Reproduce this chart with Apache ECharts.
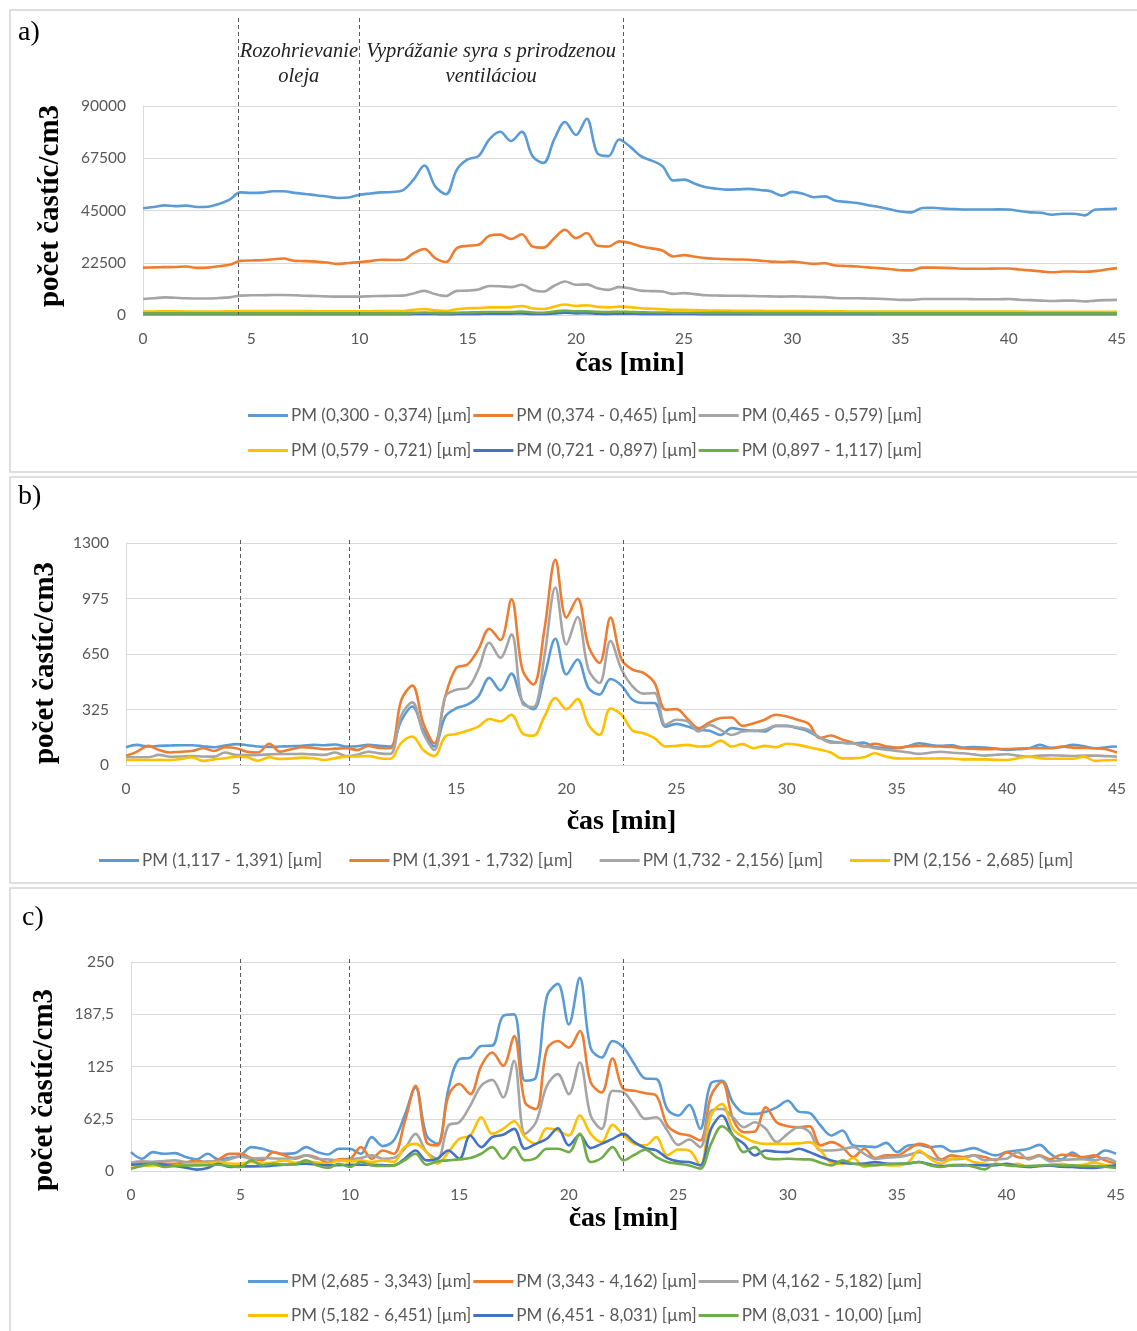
<!DOCTYPE html>
<html><head><meta charset="utf-8">
<script src="https://cdn.jsdelivr.net/npm/echarts@6/dist/echarts.min.js"></script>
<style>html,body{margin:0;padding:0;background:#fff}#c{width:1137px;height:1331px}</style>
</head><body><div id="c"></div>
<script>
// time axis (minutes), shared by all panels
const minutes = [0,0.5,1,1.5,2,2.5,3,3.5,4,4.5,5,5.5,6,6.5,7,7.5,8,8.5,9,9.5,10,10.5,11,11.5,12,12.5,13,13.5,14,14.5,15,15.5,16,16.5,17,17.5,18,18.5,19,19.5,20,20.5,21,21.5,22,22.5,23,23.5,24,24.5,25,25.5,26,26.5,27,27.5,28,28.5,29,29.5,30,30.5,31,31.5,32,32.5,33,33.5,34,34.5,35,35.5,36,36.5,37,37.5,38,38.5,39,39.5,40,40.5,41,41.5,42,42.5,43,43.5,44,44.5,45];

// ---- panel a) ----
const namesA = ['PM (0,300 - 0,374) [µm]','PM (0,374 - 0,465) [µm]','PM (0,465 - 0,579) [µm]','PM (0,579 - 0,721) [µm]','PM (0,721 - 0,897) [µm]','PM (0,897 - 1,117) [µm]'];
const a1 = [46000,46500,47200,46900,47100,46500,46600,47800,49700,52800,52600,52700,53300,53300,52600,52100,51600,51000,50400,50600,51800,52300,52800,53000,53700,58300,64400,55400,52000,62600,67000,68400,75600,78900,74900,78900,68400,65500,75600,83100,77500,84500,69500,68400,75600,72500,68400,66500,64100,57900,58300,56500,55000,54400,54000,54100,54300,53800,53300,51400,53000,52200,50700,51100,49200,48700,48200,47300,46500,45500,44600,44200,46100,46200,45800,45600,45400,45400,45400,45500,45400,44800,44200,44000,43200,43600,43600,42900,45400,45600,45800];
const a2 = [20400,20500,20600,20700,20900,20300,20400,21000,21600,23300,23500,23600,24000,24300,23300,23200,23000,22600,22000,22400,22750,23200,23760,23700,23760,26600,28400,24500,22800,28800,29800,30200,34100,34600,32700,34800,29500,29000,33100,36700,33100,35300,29800,29500,31700,31000,29500,28700,27800,25200,25800,25100,24500,24200,24000,23900,23800,23400,23000,22800,23000,22500,22000,22300,21300,21100,20900,20500,20200,19800,19300,19200,20400,20400,20300,20100,19900,19900,19900,20000,20000,19600,19200,18800,18400,18700,18700,18600,18900,19600,20200];
const a3 = [6900,7200,7600,7400,7200,7100,7100,7300,7600,8350,8500,8500,8600,8600,8500,8300,8200,8000,7900,7900,7900,8100,8200,8300,8350,9300,10400,9000,8200,10400,10500,11000,12500,12400,12000,13000,10800,10100,12600,14400,13000,13200,11500,10800,12000,11500,10500,10300,10100,9100,9400,9000,8500,8400,8300,8300,8200,8100,8000,7900,8000,7900,7800,7700,7300,7200,7200,7100,7000,6800,6500,6500,6900,6900,6900,6900,6900,6800,6800,6800,6900,6600,6400,6200,6000,6200,6200,5800,6200,6400,6500];
const a4 = [1500,1500,1600,1600,1500,1500,1500,1500,1600,1700,1700,1700,1700,1700,1700,1700,1600,1600,1600,1600,1600,1600,1700,1700,1700,2200,2600,2000,1700,2500,2900,3000,3300,3300,3400,3900,2800,2600,3600,4500,3900,4200,3500,3300,3600,3400,2900,2700,2500,2200,2200,2100,2000,1900,1900,1800,1800,1800,1700,1700,1700,1700,1600,1600,1600,1500,1500,1500,1500,1500,1500,1500,1500,1500,1500,1500,1500,1500,1500,1500,1500,1500,1400,1400,1400,1400,1400,1400,1400,1400,1400];
const a5 = [300,300,300,300,300,300,300,300,300,300,300,300,300,300,300,300,300,300,300,300,300,300,300,300,300,400,500,400,300,400,500,500,600,600,600,700,400,400,700,1000,700,800,600,500,600,550,500,450,450,400,400,400,350,350,350,350,300,300,300,300,300,300,300,300,300,300,300,300,300,300,300,300,300,300,300,300,300,300,300,300,300,300,300,300,300,300,300,300,300,300,300];
const a6 = [700,700,700,700,700,700,700,700,700,700,700,700,700,700,700,700,700,700,700,700,700,700,700,700,700,900,1100,900,800,1000,1100,1200,1300,1300,1300,1500,1100,1000,1500,1900,1600,1600,1400,1300,1400,1300,1200,1100,1100,1000,1000,950,900,900,900,850,850,800,800,800,800,800,800,800,750,750,750,750,700,700,700,700,700,700,700,700,700,700,700,700,700,700,700,700,700,700,700,700,700,700,700];

// ---- panel b) ----
const namesB = ['PM (1,117 - 1,391) [µm]','PM (1,391 - 1,732) [µm]','PM (1,732 - 2,156) [µm]','PM (2,156 - 2,685) [µm]'];
const b1 = [104,118,108,112,114,116,116,110,104,114,122,116,108,106,108,110,112,118,116,120,108,110,118,112,108,260,343,206,108,284,333,353,402,510,437,535,373,327,520,739,530,618,451,412,504,465,382,363,363,225,241,225,206,200,176,216,206,200,196,229,229,215,196,160,137,130,127,131,104,100,98,110,127,118,112,115,102,105,102,96,88,92,98,118,100,105,118,110,98,104,108];
const b2 = [53,78,112,88,73,78,82,98,82,104,98,78,73,124,78,92,104,100,92,96,98,88,112,100,98,380,465,245,127,402,569,588,677,798,731,971,559,471,794,1202,863,975,696,598,863,618,559,539,480,324,327,270,216,250,275,278,229,245,265,294,284,265,241,157,173,150,131,108,124,110,102,108,112,110,108,105,98,95,92,94,94,96,98,98,98,108,102,100,98,92,73];
const b3 = [45,45,45,59,48,50,53,50,49,73,59,58,59,62,65,64,65,62,59,73,53,60,78,68,65,290,367,186,88,402,441,451,559,716,628,765,363,339,637,1039,706,867,559,480,726,559,461,418,422,235,265,255,196,235,206,176,196,200,206,229,229,220,206,160,131,130,127,112,98,90,82,75,65,72,78,72,69,62,55,60,63,55,49,55,57,55,53,55,55,52,49];
const b4 = [29,29,29,30,29,35,45,24,33,40,49,45,25,45,35,38,43,40,29,40,49,50,53,40,37,130,167,88,53,167,182,200,225,269,255,294,186,171,284,392,327,386,235,176,331,294,202,186,157,108,112,118,108,112,143,108,122,98,112,104,124,118,104,90,73,39,39,45,69,50,39,38,39,38,39,38,33,33,33,30,29,40,49,40,37,37,37,49,24,28,29];

// ---- panel c) ----
const namesC = ['PM (2,685 - 3,343) [µm]','PM (3,343 - 4,162) [µm]','PM (4,162 - 5,182) [µm]','PM (5,182 - 6,451) [µm]','PM (6,451 - 8,031) [µm]','PM (8,031 - 10,00) [µm]'];
const c1 = [22.6,14.7,22.6,20.6,21.4,16.7,13.9,20.6,13.9,15.5,18.7,28.6,26.6,22.6,20.6,21.4,28.6,22.6,19.8,26.6,26.6,20.6,40.5,29.8,36.5,66.3,100,42.5,32.5,98,133.7,135.7,149.6,150,185.3,187.3,108,112,209,223.8,175.4,231,147,135.7,155.5,147.6,127.8,110.7,110,74.2,66.3,79,50.4,105,108,82,69.4,68.3,71,76.2,84,71,69.4,54.4,42.5,48.4,30.6,29.5,28.6,33.7,22.6,30.6,31.3,28.6,29.8,23.4,24.6,27.4,22.6,18.7,22.6,24.5,26.6,31.3,20.6,13.9,22.2,15.5,16.7,24.6,20.6];
const c2 = [7.9,9.5,9.9,9,8.7,10.5,12.7,9.9,13.9,20.6,20.6,15.5,12.7,22.6,18.7,14.7,18.7,16,9.9,13.9,14.7,28.6,14.7,24.6,20.6,58.3,102,34.5,30.6,90,104,92,125.8,141.7,125.8,161.5,82,74.2,145.6,155.5,147.6,167.5,106,94,134.5,98,96,92.9,90,54.4,45.2,42.5,36.5,90,106.7,62.3,46.4,47.2,76.2,58.3,53.6,52.4,53.6,30.6,34.5,28.6,16.7,26.6,15.5,18.7,18.7,25.8,32.5,28.6,13.9,18.7,16.7,18.7,16.7,12.7,22.6,16.7,15.5,18.7,13.9,19.4,18.7,16.7,18.7,12.7,8.7];
const c3 = [9.9,11.5,11,12,12.7,10.7,9.5,11.5,11,13.9,17.5,14.7,15.5,15,14.7,16,18.7,14.7,13.9,12.7,13.9,15.5,18.7,14.7,15.5,26.6,44.4,22.6,14.7,54.4,58.3,78.2,102,109,88,131.7,44.4,58.3,102,115.9,92,129.8,66.3,50.4,96,94,78.2,62.3,64.3,48.4,31.3,37.7,28.6,72.2,74.2,64.3,52.4,58.3,50.4,34.5,44.4,52.4,46.4,24.6,24.6,26,28.6,20.6,14.7,16,16.7,19,22.6,16.7,12.7,14,14.7,18.7,12.7,14,14.7,22.6,13.9,17.9,11.5,13,13.9,14,12.7,15.5,10.7];
const c4 = [3.6,6,6.7,6.5,6.7,7.5,8.7,8.7,10.7,9,8.7,10.7,8.7,10,12.7,9.9,11.5,10,8.7,12.7,11.5,12.7,10.7,12.7,10.7,28.6,32.5,22.6,8.7,22.6,38.5,42.5,64.3,44.4,50.4,59.5,40.5,32.5,51.2,48.4,42.5,66.3,44.4,34.5,55.2,42.5,32.5,30.6,40.5,18.7,25.8,24.6,6.7,66.3,80.2,50.4,40.5,34.5,32.5,32.5,32.5,33,34.5,24.6,9.9,8.7,15.5,4.8,8.7,7,6.7,10,24.6,14.7,8.7,14.7,15.5,10.7,8.7,8,7.5,8.7,4.8,6,6.7,8.7,6,7.5,9.9,7,4.8];
const c5 = [7.5,8,8.7,7.5,6,4,1.6,3.6,8.7,4.8,5.6,5.5,5.6,6.5,7.5,8,8.7,7.5,6.7,7,7.5,7.5,7.5,7,6.7,14.7,24.6,12.7,14.7,24.6,14.7,42.5,28.6,40.5,43.3,50.4,26.6,32.5,38.5,51.2,30.6,43.3,27.4,32.5,38.5,44.4,34.5,27.4,24.6,15.5,11.5,10.7,6.7,50.4,66.3,42.5,32.5,18.7,24.6,23,22.6,26.6,22.6,17,12.7,10,8.7,9,10.7,9,8.7,9,10.7,8,6,6.5,6.7,7,6.7,7,8.7,6,4.8,6,6.7,5,4.8,4,3.6,5,6.7];
const c6 = [2.8,6,8.7,4.8,6,6.5,6.7,7,7.5,6,4.8,12.7,6.7,8.7,7.5,8,12.7,6.7,3.6,8.7,4.8,10.7,6.7,6,6.7,12.7,20.6,7.5,11.5,12.7,13.9,15.5,20.6,28.6,14.7,28.6,12.7,15.5,26.6,26.6,22.6,44.4,10.7,15.5,28.6,12.7,19.4,25.4,16.7,10.7,8.7,6.7,2.8,32.5,53.6,42.5,22.6,28.6,15.5,14,14.7,14,13.9,10,6.7,12.7,8.7,7,6.7,8,8.7,9,10.7,7,4.8,7,7.5,5,2,8.7,6.7,6,6,6.5,7.5,6.5,6.7,6,6,5,3.6];

// phase boundaries (minutes) for each panel
const phasesA = [4.4, 10.0, 22.17];
const phasesB = [5.19, 10.12, 22.57];
const phasesC = [4.96, 9.98, 22.49];
const yTicksA = {max: 90000, step: 22500};
const yTicksB = {max: 1300, step: 325};
const yTicksC = {max: 250, step: 62.5};
const phaseLabels = [['Rozohrievanie','oleja'],['Vyprážanie syra s prirodzenou','ventiláciou']];
const yTitle = 'počet častíc/cm3';
const xTitle = 'čas [min]';

const colors = ['#5B9BD5','#ED7D31','#A5A5A5','#FFC000','#4472C4','#70AD47'];
const tickFont = 'Lato, "Liberation Sans", sans-serif';
const serif = '"Liberation Serif", "DejaVu Serif", serif';

const chart = echarts.init(document.getElementById('c'), null, {renderer: 'canvas'});

const grids = [
  {left: 143, top: 106, width: 974, height: 209},
  {left: 126, top: 543, width: 991, height: 222},
  {left: 131, top: 962, width: 985, height: 209}
];
const yCfg = [yTicksA, yTicksB, yTicksC];
const xNameGap = [35, 43, 34];

function pairs(v){ return minutes.map((t,i)=>[t, v[i]]); }

const xAxes = grids.map((g,i)=>({
  type: 'value', gridIndex: i, min: 0, max: 45, interval: 5,
  name: xTitle, nameLocation: 'middle', nameGap: xNameGap[i],
  nameTextStyle: {fontFamily: serif, fontWeight: 'bold', fontSize: 28, color: '#000'},
  axisLine: {show: false}, axisTick: {show: false}, splitLine: {show: false},
  axisLabel: {color: '#595959', fontSize: 15.5, fontFamily: tickFont, margin: 16}
}));
const yAxes = grids.map((g,i)=>({
  type: 'value', gridIndex: i, min: 0, max: yCfg[i].max, interval: yCfg[i].step,
  axisLine: {show: true, lineStyle: {color: '#d9d9d9', width: 1}}, axisTick: {show: false},
  splitLine: {show: true, lineStyle: {color: '#d9d9d9', width: 1}},
  axisLabel: {color: '#595959', fontSize: 15.5, fontFamily: tickFont, margin: 17,
    formatter: v => String(v).replace('.', ',')}
}));

const seriesDefs = [
  [namesA, [a1,a2,a3,a4,a5,a6]],
  [namesB, [b1,b2,b3,b4]],
  [namesC, [c1,c2,c3,c4,c5,c6]]
];
const series = [];
seriesDefs.forEach(([names, vals], gi)=>{
  vals.forEach((v,k)=>{
    series.push({
      type: 'line', name: names[k], xAxisIndex: gi, yAxisIndex: gi,
      data: pairs(v), smooth: 0.35, showSymbol: false, symbol: 'none',
      lineStyle: {width: 2.6, color: colors[k]}, itemStyle: {color: colors[k]},
      emphasis: {disabled: true}, animation: false
    });
  });
});

const legendBase = {
  icon: 'rect', itemWidth: 40, itemHeight: 3, itemGap: 2,
  textStyle: {color: '#595959', fontSize: 17, fontFamily: tickFont, padding: [0,0,0,-2]},
  selectedMode: false
};
const legends = [
  Object.assign({}, legendBase, {data: namesA.slice(0,3), left: 243, top: 402}),
  Object.assign({}, legendBase, {data: namesA.slice(3), left: 243, top: 437}),
  Object.assign({}, legendBase, {data: namesB, left: 94, top: 847, itemGap: 27}),
  Object.assign({}, legendBase, {data: namesC.slice(0,3), left: 243, top: 1268}),
  Object.assign({}, legendBase, {data: namesC.slice(3), left: 243, top: 1302})
];

chart.setOption({
  backgroundColor: '#fff',
  animation: false,
  grid: grids,
  xAxis: xAxes,
  yAxis: yAxes,
  legend: legends,
  series: series
});

// annotations (frames, panel letters, y titles, phase dividers)
const gfx = [];
const frames = [[10,10,1140,462],[10,477,1140,406],[10,888,1140,450]];
frames.forEach(f=>gfx.push({type:'rect', shape:{x:f[0], y:f[1], width:f[2], height:f[3]},
  style:{fill:'none', stroke:'#d4d4d4', lineWidth:1.5}, silent:true}));
[['a)',18,33],['b)',18,497],['c)',22,918]].forEach(p=>gfx.push({type:'text', x:p[1], y:p[2],
  style:{text:p[0], font:'28px ' + serif, fill:'#000', textVerticalAlign:'middle'}, silent:true}));
[[51,206],[46,663],[45,1090]].forEach(p=>gfx.push({type:'text', x:p[0], y:p[1], rotation: Math.PI/2,
  style:{text:yTitle, font:'bold 29px ' + serif, fill:'#000', textAlign:'center', textVerticalAlign:'middle'}, silent:true}));

const phaseSets = [phasesA, phasesB, phasesC];
phaseSets.forEach((ph, gi)=>{
  const yTop = gi === 0 ? 18 : chart.convertToPixel({yAxisIndex: gi}, yCfg[gi].max) - 3;
  const yBot = chart.convertToPixel({yAxisIndex: gi}, 0);
  ph.forEach(v=>{
    const x = Math.round(chart.convertToPixel({xAxisIndex: gi}, v)) + 0.5;
    gfx.push({type:'line', shape:{x1:x, y1:yTop, x2:x, y2:yBot},
      style:{stroke:'#595959', lineWidth:1, lineDash:[4,3]}, silent:true, z:10});
  });
});
// phase labels in panel a, centred between the dividers
for (let k = 0; k < 2; k++) {
  const mid = (phasesA[k] + phasesA[k + 1]) / 2;
  const x = chart.convertToPixel({xAxisIndex: 0}, mid);
  gfx.push({type:'text', x:x, y:52, style:{text:phaseLabels[k][0], font:'italic 20.5px ' + serif,
    fill:'#222', textAlign:'center', textVerticalAlign:'middle'}, silent:true});
  gfx.push({type:'text', x:x, y:77, style:{text:phaseLabels[k][1], font:'italic 20.5px ' + serif,
    fill:'#222', textAlign:'center', textVerticalAlign:'middle'}, silent:true});
}
chart.setOption({graphic: {elements: gfx}});
</script></body></html>
